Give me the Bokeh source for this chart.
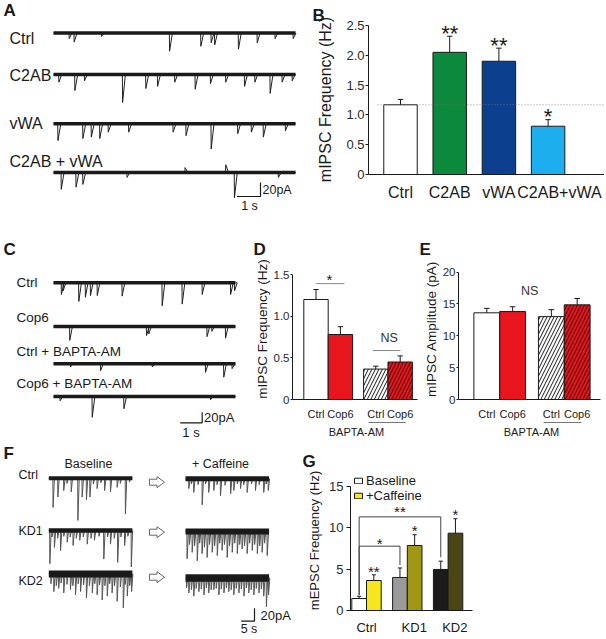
import numpy as np
from bokeh.plotting import figure
from bokeh.layouts import column, row
from bokeh.models import (Range1d, Label, FixedTicker, LinearAxis, Legend, LegendItem)
from bokeh.embed import file_html
from bokeh.resources import INLINE

FONT = "Liberation Sans"
INK = "#1a1a1a"
TICK_INK = "#2a2a2a"

# ======================= DATA =======================
# ---- Panel A: example traces (event time in s, amplitude in pA) ----
A_LABELS = ["Ctrl", "C2AB", "vWA", "C2AB + vWA"]
A_DURATION_S = 10.3
A_CTRL_T = [0.67, 0.88, 2.04, 4.94, 6.27, 6.71, 6.86, 7.87, 8.67, 9.43, 10.2]
A_CTRL_AMP = [8, 13, 5, 26, 19, 14, 17, 23, 14, 8, 8]
A_C2AB_T = [0.23, 0.91, 1.32, 2.94, 3.93, 4.43, 5.16, 6.03, 6.68, 7.33, 8.13, 8.57, 9.22, 9.73, 10.16]
A_C2AB_AMP = [11, 23, 9, 40, 20, 17, 11, 21, 13, 11, 17, 11, 27, 11, 9]
A_VWA_T = [0.19, 1.25, 1.61, 1.97, 2.33, 3.2, 5.09, 5.64, 6.71, 7.84, 8.42, 8.93, 9.87]
A_VWA_AMP = [24, 21, 19, 21, 12, 12, 12, 17, 36, 14, 12, 19, 10]
A_BOTH_T = [0.33, 0.96, 1.25, 3.13, 5.6, 7.33, 7.70, 9.57]
A_BOTH_AMP = [24, 21, 17, 7, -7, -11, 36, 7]

# ---- Panel B: mIPSC frequency (Hz) ----
B_CATS = ["Ctrl", "C2AB", "vWA", "C2AB+vWA"]
B_MEAN = [1.17, 2.05, 1.90, 0.81]
B_SEM = [0.09, 0.27, 0.22, 0.11]
B_SIG = ["", "**", "**", "*"]
B_YTICKS = [0, 0.5, 1.0, 1.5, 2.0, 2.5]
B_YTICK_LABELS = ["0", "0.5", "1.0", "1.5", "2.0", "2.5"]

# ---- Panel C: example traces ----
C_LABELS = ["Ctrl", "Cop6", "Ctrl + BAPTA-AM", "Cop6 + BAPTA-AM"]
C_DURATION_S = 8.27
C_CTRL_T = [0.36, 0.44, 1.15, 1.45, 1.68, 1.99, 3.12, 4.94, 5.85, 6.76, 8.05, 8.23]
C_CTRL_AMP = [22, 15, 35, 27, 24, 24, 25, 43, 40, 22, 22, 15]
C_COP6_T = [0.74, 4.23, 4.33, 6.98, 7.2, 7.82]
C_COP6_AMP = [26, 17, 14, 19, 9, 22]
C_CTRLB_T = [0.77, 2.14, 4.49, 6.91, 7.74, 8.12]
C_CTRLB_AMP = [6, 13, 6, 16, 25, 9]
C_COP6B_T = [0.3, 1.76, 3.2, 7.14]
C_COP6B_AMP = [8, 39, 23, 6]

# ---- Panel D: mIPSC frequency (Hz) ----
DE_CATS = ["Ctrl", "Cop6", "Ctrl", "Cop6"]
DE_GROUP_LABEL = "BAPTA-AM"
D_MEAN = [1.20, 0.78, 0.365, 0.45]
D_SEM = [0.12, 0.094, 0.035, 0.073]
D_YTICKS = [0, 0.5, 1.0, 1.5]
D_YTICK_LABELS = ["0", "0.5", "1.0", "1.5"]

# ---- Panel E: mIPSC amplitude (pA) ----
E_MEAN = [13.6, 13.8, 13.0, 14.85]
E_SEM = [0.7, 0.75, 1.1, 1.0]
E_YTICKS = [0, 5, 10, 15, 20]
E_YTICK_LABELS = ["0", "5", "10", "15", "20"]

# ---- Panel F: example traces ----
F_LABELS = ["Ctrl", "KD1", "KD2"]
F_HEADERS = ["Baseline", "+ Caffeine"]
F_DURATION_S = 31.3
F_CTRL_BASE_T = [1.6, 3.4, 5.6, 6.8, 8.4, 10.9, 12.5, 14.1, 15.4, 16.7, 18.1, 19.5, 20.9, 23.1, 25.6, 26.8, 28.7, 30.2]
F_CTRL_BASE_AMP = [45, 29, 19, 8, 21, 65, 29, 33, 29, 9, 16, 7, 19, 21, 14, 8, 55, 6]
F_CTRL_CAFF_T = [1.25, 2.2, 3.1, 4.7, 6.25, 7.5, 8.7, 10.6, 11.8, 13.1, 14.8, 16.9, 18.1, 19.4, 20.6,
                 21.8, 23.1, 24.7, 26.2, 27.6, 29.3, 30.2, 31.0]
F_CTRL_CAFF_AMP = [15, 8, 21, 9, 40, 8, 21, 18, 9, 26, 10, 23, 18, 8, 15, 9, 21, 8, 18, 9, 21, 8, 18]
F_KD1_BASE_T = [0.4, 1.2, 2.1, 3.3, 4.4, 5.6, 6.9, 8.0, 9.1, 10.3, 11.6, 12.9, 14.4, 15.8, 17.1, 18.8,
                20.6, 22.0, 23.1, 24.5, 25.8, 27.0, 28.4, 29.6, 30.9]
F_KD1_BASE_AMP = [51, 10, 26, 12, 31, 9, 18, 10, 23, 12, 15, 10, 21, 12, 15, 9, 44, 10, 21, 12, 49, 10, 23, 9, 56]
F_KD1_CAFF_T = [0.6, 1.5, 2.5, 3.4, 4.4, 5.3, 6.2, 7.1, 8.1, 9.0, 10.0, 10.9, 11.9, 12.8, 13.7, 14.6,
                15.6, 16.5, 17.5, 18.4, 19.4, 20.3, 21.2, 22.1, 23.1, 24.0, 25.0, 25.9, 26.9, 27.8,
                28.7, 29.6, 30.6]
F_KD1_CAFF_AMP = [42, 20, 32, 22, 45, 18, 34, 24, 40, 20, 32, 22, 37, 18, 29, 20, 40, 22, 32, 18, 34,
                  20, 27, 22, 34, 18, 29, 20, 34, 22, 32, 18, 37]
F_KD2_BASE_T = [0.8, 1.9, 2.8, 3.7, 4.6, 5.6, 6.8, 8.1, 9.0, 10.0, 11.0, 11.9, 13.0, 14.1, 15.2, 16.3,
                17.2, 18.1, 19.0, 20.0, 21.0, 21.9, 22.8, 23.7, 24.6, 25.6, 26.8, 27.9, 28.6, 29.4,
                30.3, 31.0]
F_KD2_BASE_AMP = [15, 27, 18, 22, 14, 29, 16, 24, 18, 32, 15, 27, 17, 37, 18, 29, 15, 32, 17, 40, 18,
                  34, 15, 29, 18, 42, 20, 52, 16, 34, 18, 27]
F_KD2_CAFF_T = [0.4, 1.25, 2.2, 3.1, 4.0, 5.0, 5.9, 6.9, 7.8, 8.7, 9.6, 10.6, 11.5, 12.5, 13.4, 14.4,
                15.3, 16.2, 17.1, 18.1, 19.0, 20.0, 20.9, 21.9, 22.8, 23.7, 24.6, 25.6, 26.5, 27.5,
                28.4, 29.3, 30.3, 31.1]
F_KD2_CAFF_AMP = [15, 23, 18, 28, 16, 21, 17, 26, 15, 23, 18, 18, 16, 26, 17, 23, 15, 21, 18, 26, 16,
                  23, 17, 28, 15, 23, 18, 26, 16, 23, 17, 28, 44, 26]

# ---- Panel G: mEPSC frequency (Hz) ----
G_GROUPS = ["Ctrl", "KD1", "KD2"]
G_SERIES = ["Baseline", "+Caffeine"]
G_BASE = [1.45, 4.0, 4.97]
G_BASE_SEM = [0.27, 1.15, 1.0]
G_CAFF = [3.63, 7.87, 9.36]
G_CAFF_SEM = [0.69, 1.3, 1.75]
G_CAFF_SIG = ["**", "*", "*"]
G_YTICKS = [0, 5, 10, 15]
G_YTICK_LABELS = ["0", "5", "10", "15"]

# ======================= HELPERS =======================

def add_text(p, x, y, s, size, align="left", baseline="middle", bold=False, color=INK):
    p.add_layout(Label(x=x, y=y, text=s, text_font=FONT, text_font_size=f"{size}px",
                       text_align=align, text_baseline=baseline,
                       text_font_style="bold" if bold else "normal", text_color=color))


def trace_fig(left, top, width, height, x_origin, px_per_s, px_per_pa):
    x0 = (left - x_origin) / px_per_s
    x1 = (left + width - x_origin) / px_per_s
    p = figure(width=width, height=height, x_range=Range1d(x0, x1),
               y_range=Range1d(-height / px_per_pa, 0.0), output_backend="svg",
               toolbar_location=None, x_axis_location=None, y_axis_location=None,
               min_border=0, outline_line_color=None, background_fill_color="white",
               border_fill_color="white", frame_align=False)
    p.grid.visible = False
    X = lambda px: (px - x_origin) / px_per_s
    Y = lambda py: -(py - top) / px_per_pa
    return p, X, Y


def draw_trace(p, t0, duration, times, amps, base, band_w, rise, decay, spike_color, spike_w=1.0):
    xs, ys = [t0], [base]
    for t, a in sorted(zip(times, amps)):
        xs += [t0 + t - rise, t0 + t, t0 + t + decay]
        ys += [base, base - a, base]
    xs.append(t0 + duration)
    ys.append(base)
    p.line(xs, ys, line_color=spike_color, line_width=spike_w)
    p.line([t0, t0 + duration], [base, base], line_color=INK, line_width=band_w)


def scale_bar(p, cx, cy, t_len, pa_len):
    p.line([cx - t_len, cx, cx], [cy, cy, cy + pa_len], line_color=INK, line_width=1.2)


def bar_fig(letter, letter_x, left, top, width, height, frame_left, frame_top, frame_bottom,
            x_at_left, px_per_x, px_per_y):
    x0 = x_at_left
    x1 = x0 + (left + width - frame_left) / px_per_x
    y1 = (frame_bottom - frame_top) / px_per_y
    p = figure(title=letter, width=width, height=height, x_range=Range1d(x0, x1),
               y_range=Range1d(0, y1), output_backend="svg", toolbar_location=None,
               min_border_left=int(round(frame_left - left)), min_border_right=0,
               min_border_top=int(round(frame_top - top)),
               min_border_bottom=int(round(top + height - frame_bottom)),
               outline_line_color=None, background_fill_color="white",
               border_fill_color="white", frame_align=False)
    p.grid.visible = False
    p.title.align = "left"
    p.title.offset = letter_x - frame_left
    p.title.standoff = 0
    p.title.text_font = FONT
    p.title.text_font_size = "17px"
    p.title.text_font_style = "bold"
    p.title.text_color = INK
    X = lambda px: x0 + (px - frame_left) / px_per_x
    Y = lambda py: (frame_bottom - py) / px_per_y
    return p, X, Y


def style_axes(p, yticks, ylabels, ytitle, y_fs, ytitle_fs, xticks, xlabels, x_fs, x_end,
               tick_out=3, ylab_standoff=2, ytitle_standoff=4, xlab_standoff=4):
    ya = p.yaxis[0]
    ya.ticker = FixedTicker(ticks=yticks)
    ya.major_label_overrides = {v: l for v, l in zip(yticks, ylabels)}
    ya.bounds = (yticks[0], yticks[-1])
    ya.axis_label = ytitle
    ya.axis_label_text_font = FONT
    ya.axis_label_text_font_style = "normal"
    ya.axis_label_text_font_size = f"{ytitle_fs}px"
    ya.axis_label_text_color = INK
    ya.axis_label_standoff = ytitle_standoff
    ya.major_label_text_font = FONT
    ya.major_label_text_font_size = f"{y_fs}px"
    ya.major_label_text_color = TICK_INK
    ya.major_label_standoff = ylab_standoff
    ya.major_tick_out = tick_out
    ya.major_tick_in = 0
    ya.minor_tick_line_color = None
    ya.axis_line_color = INK
    ya.major_tick_line_color = INK

    xa = p.xaxis[0]
    xa.ticker = FixedTicker(ticks=xticks)
    xa.major_label_overrides = {v: l for v, l in zip(xticks, xlabels)}
    xa.bounds = (p.x_range.start, x_end)
    xa.major_label_text_font = FONT
    xa.major_label_text_font_size = f"{x_fs}px"
    xa.major_label_text_color = INK
    xa.major_label_standoff = xlab_standoff
    xa.major_tick_line_color = None
    xa.minor_tick_line_color = None
    xa.axis_line_color = INK


def group_axis(p, x0, x1, text, fs, standoff):
    ax = LinearAxis(bounds=(x0, x1), ticker=FixedTicker(ticks=[]), axis_label=text,
                    axis_label_text_font=FONT, axis_label_text_font_style="normal",
                    axis_label_text_font_size=f"{fs}px", axis_label_text_color=INK,
                    axis_label_standoff=standoff, axis_line_color="#777777",
                    major_tick_line_color=None, minor_tick_line_color=None)
    p.add_layout(ax, "below")


def error_bars(p, xs, tops, sems, cap, color=INK):
    ends = [t + s for t, s in zip(tops, sems)]
    p.segment(x0=xs, y0=tops, x1=xs, y1=ends, line_color=color, line_width=1)
    p.segment(x0=[x - cap / 2 for x in xs], y0=ends, x1=[x + cap / 2 for x in xs], y1=ends,
              line_color=color, line_width=1)


# ======================= PANEL A =======================
pA, XA, YA = trace_fig(0, 0, 298, 215, 53, 23.5, 0.7)
a_sets = [(A_CTRL_T, A_CTRL_AMP), (A_C2AB_T, A_C2AB_AMP), (A_VWA_T, A_VWA_AMP), (A_BOTH_T, A_BOTH_AMP)]
a_base_px = [32.5, 74, 123.3, 172]
a_label_px = [(9, 37.5), (9, 74.5), (9, 122.5), (9, 161)]
for (tt, aa), bpx, (lx, ly), lab in zip(a_sets, a_base_px, a_label_px, A_LABELS):
    draw_trace(pA, 0, A_DURATION_S, tt, aa, YA(bpx), 3.6, 0.01, 0.12, "#222222")
    add_text(pA, XA(lx), YA(ly), lab, 16)
scale_bar(pA, XA(260), YA(196), 1, 20)
add_text(pA, XA(262), YA(189.5), "20pA", 12.5)
add_text(pA, XA(249), YA(205.5), "1 s", 12.5, align="center")
add_text(pA, XA(3), YA(10), "A", 17, bold=True)

# ======================= PANEL B =======================
pB, XB, YB = bar_fig("B", 312, 298, 0, 306, 215, 368, 24, 174, 1 - (400 - 368) / 49.2, 49.2, 59.6)
b_pos = [1, 2, 3, 4]
b_colors = ["white", "#0b8a3c", "#0c3f8d", "#1caeef"]
pB.vbar(x=b_pos, top=B_MEAN, width=0.68, fill_color=b_colors, line_color=INK, line_width=1)
error_bars(pB, b_pos, B_MEAN, B_SEM, 0.11)
pB.line([XB(377), XB(604)], [B_MEAN[0], B_MEAN[0]], line_color="#777777", line_width=0.8,
        line_dash="1 2")
style_axes(pB, B_YTICKS, B_YTICK_LABELS, "mIPSC Frequency (Hz)", 13, 16,
           [1, 2, 3, 4.23], B_CATS, 16, XB(604), tick_out=3, ylab_standoff=1,
           ytitle_standoff=9, xlab_standoff=3)
for x, m, s, sig in zip(b_pos, B_MEAN, B_SEM, B_SIG):
    if sig:
        add_text(pB, x, m + s + 3 / 59.6, sig, 22, align="center", baseline="middle")

# ======================= PANEL C =======================
pC, XC, YC = trace_fig(0, 215, 250, 225, 53, 22.0, 0.533)
c_sets = [(C_CTRL_T, C_CTRL_AMP), (C_COP6_T, C_COP6_AMP), (C_CTRLB_T, C_CTRLB_AMP), (C_COP6B_T, C_COP6B_AMP)]
c_base_px = [282.3, 326, 363.3, 396]
c_label_px = [(16, 281.7), (16, 316.5), (16, 350.7), (16, 382.5)]
for (tt, aa), bpx, (lx, ly), lab in zip(c_sets, c_base_px, c_label_px, C_LABELS):
    draw_trace(pC, 0, C_DURATION_S, tt, aa, YC(bpx), 3.6, 0.01, 0.12, "#222222")
    add_text(pC, XC(lx), YC(ly), lab, 13.5)
scale_bar(pC, XC(201.7), YC(422.3), 1, 20)
add_text(pC, XC(203.5), YC(416.5), "20pA", 13)
add_text(pC, XC(190.5), YC(431.5), "1 s", 13, align="center")
add_text(pC, XC(3), YC(248.5), "C", 17, bold=True)

# ======================= PANEL D =======================
pD, XD, YD = bar_fig("D", 253, 250, 215, 170, 225, 292, 258, 404, (292 - 315.5) / 24.4, 24.4, 86.27)
d_pos = [0, 1, 2.45, 3.45]
pD.vbar(x=d_pos[:2], top=D_MEAN[:2], width=1, fill_color=["white", "#e8151d"], line_color=INK)
pD.vbar(x=d_pos[2:3], top=D_MEAN[2:3], width=1, fill_color="white", line_color=INK,
        hatch_pattern="/", hatch_scale=7, hatch_weight=1, hatch_color=INK)
pD.vbar(x=d_pos[3:], top=D_MEAN[3:], width=1, fill_color="#e8151d", line_color=INK,
        hatch_pattern="/", hatch_scale=7, hatch_weight=1, hatch_color="#3a0505")
error_bars(pD, d_pos, D_MEAN, D_SEM, 0.22)
style_axes(pD, D_YTICKS, D_YTICK_LABELS, "mIPSC Frequency (Hz)", 11.5, 13.5,
           d_pos, DE_CATS, 11, XD(416.7), tick_out=2, ylab_standoff=1, ytitle_standoff=1,
           xlab_standoff=2)
group_axis(pD, XD(368.3), XD(405), DE_GROUP_LABEL, 11, 3)
pD.line([XD(315.7), XD(344)], [YD(284), YD(284)], line_color="#888888", line_width=1)
add_text(pD, (d_pos[0] + d_pos[1]) / 2 + 0.05, YD(280), "*", 15, align="center")
pD.line([XD(372.3), XD(400)], [YD(353.3), YD(353.3)], line_color="#888888", line_width=1)
add_text(pD, (d_pos[2] + d_pos[3]) / 2 + 0.05, YD(340), "NS", 12.5, align="center", color="#333333")

# ======================= PANEL E =======================
pE, XE, YE = bar_fig("E", 418, 420, 215, 184, 225, 457, 258, 404, (457 - 485.5) / 26.0, 26.0, 6.6)
e_pos = [0, 1, 2.5, 3.5]
pE.vbar(x=e_pos[:2], top=E_MEAN[:2], width=1, fill_color=["white", "#e8151d"], line_color=INK)
pE.vbar(x=e_pos[2:3], top=E_MEAN[2:3], width=1, fill_color="white", line_color=INK,
        hatch_pattern="/", hatch_scale=7, hatch_weight=1, hatch_color=INK)
pE.vbar(x=e_pos[3:], top=E_MEAN[3:], width=1, fill_color="#e8151d", line_color=INK,
        hatch_pattern="/", hatch_scale=7, hatch_weight=1, hatch_color="#3a0505")
error_bars(pE, e_pos, E_MEAN, E_SEM, 0.22)
style_axes(pE, E_YTICKS, E_YTICK_LABELS, "mIPSC Amplitude (pA)", 11.5, 13.5,
           e_pos, DE_CATS, 11, XE(600), tick_out=2, ylab_standoff=1, ytitle_standoff=1,
           xlab_standoff=2)
group_axis(pE, XE(543), XE(581), DE_GROUP_LABEL, 11, 3)
add_text(pE, XE(528.7), YE(291.7), "NS", 12.5, align="center", color="#333333")

# ======================= PANEL F =======================
pF, XF, YF = trace_fig(0, 440, 300, 197, 48.3, 2.67, 0.65)
caff_t0 = (185 - 48.3) / 2.67
f_base = [(F_CTRL_BASE_T, F_CTRL_BASE_AMP), (F_KD1_BASE_T, F_KD1_BASE_AMP), (F_KD2_BASE_T, F_KD2_BASE_AMP)]
f_caff = [(F_CTRL_CAFF_T, F_CTRL_CAFF_AMP), (F_KD1_CAFF_T, F_KD1_CAFF_AMP), (F_KD2_CAFF_T, F_KD2_CAFF_AMP)]
f_base_px = [477.7, 530, 573.5]
f_caff_px = [478.3, 531, 577.5]
f_base_w = [4, 4.5, 7]
f_caff_w = [5, 6, 7.5]
f_label_py = [474, 530, 580]
for i in range(3):
    tt, aa = f_base[i]
    draw_trace(pF, 0, F_DURATION_S, tt, aa, YF(f_base_px[i]), f_base_w[i], 0.08, 0.5, "#555555")
    tt, aa = f_caff[i]
    draw_trace(pF, caff_t0, F_DURATION_S, tt, aa, YF(f_caff_px[i]), f_caff_w[i], 0.08, 0.5, "#555555")
    add_text(pF, XF(18), YF(f_label_py[i]), F_LABELS[i], 12.5)
arrow_cy = [481.7, 531.7, 576.7]
axs, ays = [], []
for cy in arrow_cy:
    pxs = [149, 156.5, 156.5, 164, 156.5, 156.5, 149]
    pys = [cy - 3, cy - 3, cy - 5.5, cy, cy + 5.5, cy + 3, cy + 3]
    axs.append([XF(v) for v in pxs])
    ays.append([YF(v) for v in pys])
pF.patches(axs, ays, fill_color="white", line_color="#666666", line_width=1)
add_text(pF, XF(88), YF(463.3), F_HEADERS[0], 12.5, align="center")
add_text(pF, XF(220), YF(463.3), F_HEADERS[1], 12.5, align="center")
scale_bar(pF, XF(254), YF(620.7), 5, 20)
add_text(pF, XF(260), YF(615), "20pA", 13)
add_text(pF, XF(248.5), YF(628.3), "5 s", 12.5, align="center")
add_text(pF, XF(3), YF(453), "F", 17, bold=True)

# ======================= PANEL G =======================
pG, XG, YG = bar_fig("G", 302, 300, 440, 304, 197, 350, 470, 618, 1 - (366 - 350) / 40.8, 40.8, 8.733)
g_x = [1, 2, 3]
off, bw = 0.18, 0.36
xb = [x - off for x in g_x]
xc = [x + off for x in g_x]
r_base = pG.vbar(x=xb, top=G_BASE, width=bw, fill_color=["white", "#9a9a9a", "#1c1a1a"], line_color=INK)
r_caff = pG.vbar(x=xc, top=G_CAFF, width=bw, fill_color=["#f5e61e", "#a09714", "#4a4514"], line_color=INK)
error_bars(pG, xb, G_BASE, G_BASE_SEM, 0.1)
error_bars(pG, xc, G_CAFF, G_CAFF_SEM, 0.1)
style_axes(pG, G_YTICKS, G_YTICK_LABELS, "mEPSC Frequency (Hz)", 13, 13,
           [1, 2.17, 3.165], G_GROUPS, 13, XG(471.7), tick_out=4, ylab_standoff=3,
           ytitle_standoff=4, xlab_standoff=3)
for x, m, s, sig in zip(xc, G_CAFF, G_CAFF_SEM, G_CAFF_SIG):
    add_text(pG, x, m + s + 4 / 8.733, sig, 15, align="center")
pG.multi_line([[xb[0], xb[0], xb[2], xb[2]], [xb[0], xb[0], xb[1], xb[1]]],
              [[YG(601.7), YG(519), YG(519), YG(561.7)], [YG(601.7), YG(550), YG(550), YG(570)]],
              line_color="#444444", line_width=1)
add_text(pG, (xb[0] + xb[2]) / 2, YG(513.5), "**", 15, align="center")
add_text(pG, (xb[0] + xb[1]) / 2, YG(546.8), "*", 15, align="center")
legend = Legend(items=[LegendItem(label=G_SERIES[0], renderers=[r_base], index=0),
                       LegendItem(label=G_SERIES[1], renderers=[r_caff], index=0)],
                location=(3, 107), glyph_width=10, glyph_height=7, label_height=10,
                label_standoff=3, spacing=-9, padding=0, margin=0, border_line_color=None,
                background_fill_alpha=0, label_text_font=FONT, label_text_font_size="13px",
                label_text_color=INK)
pG.add_layout(legend, "center")

layout = column(row(pA, pB), row(pC, pD, pE), row(pF, pG))
open("out.html", "w").write(file_html(layout, INLINE))
